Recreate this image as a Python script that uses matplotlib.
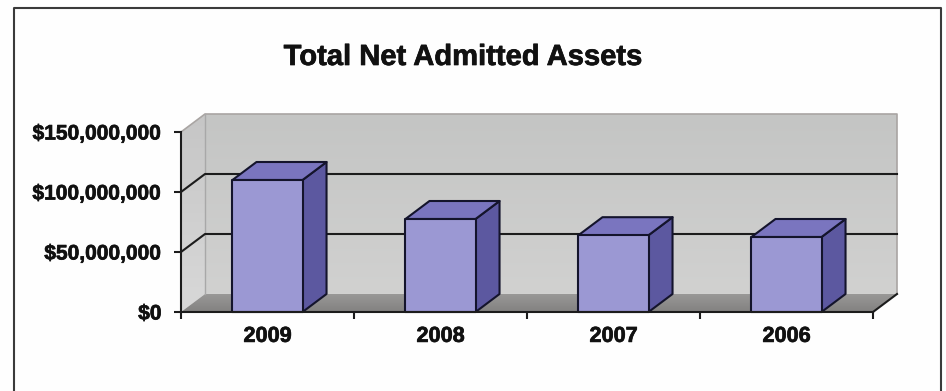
import matplotlib
matplotlib.use('Agg')
import matplotlib.pyplot as plt
import matplotlib.patheffects as pe
import numpy as np
from matplotlib.colors import LinearSegmentedColormap
from matplotlib.lines import Line2D
from matplotlib.patches import Polygon

years = ['2009', '2008', '2007', '2006']
assets = [110000000, 77500000, 64000000, 62500000]
y_ticks = [0, 50000000, 100000000, 150000000]
y_labels = ['$0', '$50,000,000', '$100,000,000', '$150,000,000']

W, H = 946, 391
# depth of the 3d box, in data units
DX = 24 / 173
DY = 15000000
BAR_W = 0.405

plt.rcParams['font.family'] = ['Liberation Sans', 'DejaVu Sans']
plt.rcParams['font.weight'] = 'bold'

fig = plt.figure(figsize=(W / 100, H / 100), dpi=100, facecolor='#fefefe')
ax = fig.add_axes([181 / W, (H - 312) / H, (873 - 181) / W, (312 - 132) / H])
ax.patch.set_visible(False)

n = len(years)
top = y_ticks[-1]


def poly(pts, color, edge='none', lw=0, z=1):
    ax.add_patch(Polygon(pts, closed=True, facecolor=color, edgecolor=edge, linewidth=lw,
                         zorder=z, clip_on=False, joinstyle='round'))


def shaded(pts, c_top, c_bottom, z):
    # vertical colour ramp clipped to a polygon, free to leave the axes box
    xs = [p[0] for p in pts]
    ys = [p[1] for p in pts]
    cmap = LinearSegmentedColormap.from_list('ramp', [c_bottom, c_top])
    im = ax.imshow(np.linspace(0, 1, 64).reshape(-1, 1), cmap=cmap, origin='lower', aspect='auto',
                   extent=(min(xs), max(xs), min(ys), max(ys)), zorder=z)
    im.set_clip_box(fig.bbox)
    im.set_clip_path(Polygon(pts, closed=True, transform=ax.transData))


# walls and floor
shaded([(DX, DY), (n + DX, DY), (n + DX, top + DY), (DX, top + DY)], '#c4c5c4', '#d1d1d0', 1)
shaded([(0, 0), (DX, DY), (DX, top + DY), (0, top)], '#c6c6c6', '#d8d8d8', 1)
shaded([(0, 0), (n, 0), (n + DX, DY), (DX, DY)], '#999897', '#828180', 2)

ax.set_xlim(0, n)
ax.set_ylim(0, top)

# pale edges of the walls
ax.plot([0, DX, n + DX, n + DX], [top, top + DY, top + DY, DY], color='#a9a5a3', lw=1.2,
        zorder=3, clip_on=False)
ax.plot([DX, DX], [DY, top + DY], color='#a8a8a8', lw=1, zorder=3, clip_on=False)

# gridlines run along the side wall and then the back wall
for v in y_ticks[1:-1]:
    ax.plot([0, DX, n + DX], [v, v + DY, v + DY], color='#1c1c1c', lw=1.5, zorder=3, clip_on=False)

# right edge of the floor
ax.plot([n, n + DX], [0, DY], color='#1c1c1c', lw=1.5, zorder=3, clip_on=False)

for i, val in enumerate(assets):
    x0 = i + 0.5 - BAR_W / 2
    x1 = i + 0.5 + BAR_W / 2
    poly([(x0, 0), (x1, 0), (x1, val), (x0, val)], '#9b98d3', '#14142c', 1.5, 5)
    poly([(x1, 0), (x1 + DX, DY), (x1 + DX, val + DY), (x1, val)], '#5c58a0', '#14142c', 1.5, 4)
    poly([(x0, val), (x1, val), (x1 + DX, val + DY), (x0 + DX, val + DY)], '#7a75bf', '#14142c', 1.5, 4)

for s in ['top', 'right']:
    ax.spines[s].set_visible(False)
for s in ['left', 'bottom']:
    ax.spines[s].set_linewidth(1.5)
    ax.spines[s].set_color('#1c1c1c')
    ax.spines[s].set_zorder(6)

# labels get a thin stroke so they read as heavy as the print
heavy = [pe.withStroke(linewidth=0.5, foreground='#111111')]

ax.set_yticks(y_ticks)
ax.set_yticklabels(y_labels, fontsize=15.1, fontweight='bold', path_effects=heavy)
ax.set_xticks(range(n + 1))
ax.set_xticklabels([])
ax.set_xticks([i + 0.5 for i in range(n)], minor=True)
ax.set_xticklabels(years, minor=True, fontsize=15.6, fontweight='bold', path_effects=heavy)
ax.tick_params(axis='y', length=5, width=1.5, pad=9, color='#1c1c1c', labelcolor='#111111')
ax.tick_params(axis='x', which='major', length=5, width=1.5, color='#1c1c1c')
ax.tick_params(axis='x', which='minor', length=0, pad=10, labelcolor='#111111')

fig.text(463 / W, (H - 57) / H, 'Total Net Admitted Assets', ha='center', va='center',
         fontsize=21, fontweight='bold', color='#111111', path_effects=heavy)

# open border around the chart, no bottom edge
fig.add_artist(Line2D([14 / W, 14 / W, 941 / W, 941 / W], [0, (H - 8) / H, (H - 8) / H, 0],
                      color='#3a3a3a', lw=1.5))

fig.savefig('out.png', dpi=100, facecolor=fig.get_facecolor())
